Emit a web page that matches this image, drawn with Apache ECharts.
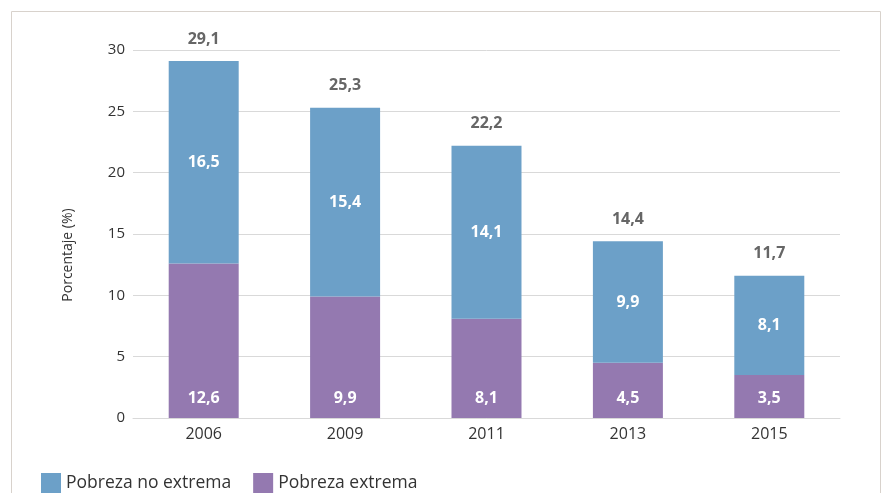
<!DOCTYPE html>
<html>
<head>
<meta charset="utf-8">
<script src="https://cdn.jsdelivr.net/npm/echarts@6/dist/echarts.min.js"></script>
<style>
    html, body { margin: 0; padding: 0; background: #fff; }
    #chart { width: 884px; height: 493px; }
</style>
</head>
<body>
<div id="chart"></div>
<script>
// datos del gráfico
const years = ['2006', '2009', '2011', '2013', '2015'];
const pobrezaExtrema = [12.6, 9.9, 8.1, 4.5, 3.5];
const pobrezaNoExtrema = [16.5, 15.4, 14.1, 9.9, 8.1];
const totales = [29.1, 25.3, 22.2, 14.4, 11.7];
const yTicks = [0, 5, 10, 15, 20, 25, 30];

const fmt = (v) => String(v).replace('.', ',');
const fontFamily = '"Open Sans", "Noto Sans", sans-serif';

const chart = echarts.init(document.getElementById('chart'));

const option = {
    animation: false,
    textStyle: { fontFamily: fontFamily },
    graphic: [
        {
            type: 'rect',
            shape: { x: 11.5, y: 11.5, width: 869, height: 500 },
            style: { fill: 'none', stroke: '#d8d2cc', lineWidth: 1 },
            silent: true,
        },
    ],
    grid: {
        left: 133,
        right: 44,
        top: 50,
        bottom: 75,
    },
    legend: {
        left: 36,
        top: 468,
        itemWidth: 20,
        itemHeight: 20,
        itemGap: 22,
        icon: 'rect',
        textStyle: { fontSize: 17.5, color: '#333', fontFamily: fontFamily },
        data: ['Pobreza no extrema', 'Pobreza extrema'],
    },
    xAxis: {
        type: 'category',
        data: years,
        axisLine: { lineStyle: { color: '#d9d9d9' } },
        axisTick: { show: false },
        axisLabel: { fontSize: 16, color: '#333', margin: 8 },
    },
    yAxis: {
        type: 'value',
        min: yTicks[0],
        max: yTicks[yTicks.length - 1],
        interval: 5,
        name: 'Porcentaje (%)',
        nameLocation: 'middle',
        nameGap: 58,
        nameTextStyle: { fontSize: 14, color: '#333', padding: [0, 42, 0, 0] },
        axisLine: { show: false },
        axisTick: { show: false },
        axisLabel: { fontSize: 15, color: '#333', margin: 8 },
        splitLine: { lineStyle: { color: '#d9d9d9' } },
    },
    series: [
        {
            name: 'Pobreza extrema',
            type: 'bar',
            stack: 'total',
            barWidth: '49.5%',
            data: pobrezaExtrema,
            itemStyle: { color: '#9479b0' },
            label: {
                show: true,
                position: 'insideBottom',
                distance: 12,
                color: '#fff',
                fontSize: 16,
                fontWeight: 'bold',
                formatter: (p) => fmt(p.value),
            },
        },
        {
            name: 'Pobreza no extrema',
            type: 'bar',
            stack: 'total',
            data: pobrezaNoExtrema,
            itemStyle: { color: '#6ca0c8' },
            label: {
                show: true,
                position: 'inside',
                color: '#fff',
                fontSize: 16,
                fontWeight: 'bold',
                formatter: (p) => fmt(p.value),
            },
        },
        {
            // totales encima de cada barra
            name: 'Total',
            type: 'bar',
            stack: 'total',
            data: years.map(() => 0),
            itemStyle: { color: 'transparent' },
            label: {
                show: true,
                position: 'top',
                distance: 14,
                color: '#666',
                fontSize: 16,
                fontWeight: 'bold',
                formatter: (p) => fmt(totales[p.dataIndex]),
            },
        },
    ],
};

chart.setOption(option);
</script>
</body>
</html>
